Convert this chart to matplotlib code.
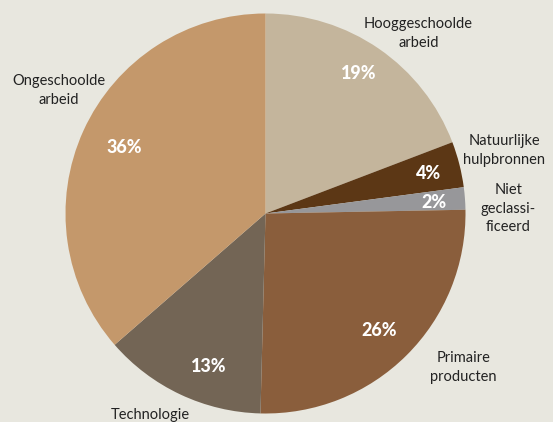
import numpy as np
from matplotlib import pyplot as plt

# sectors, clockwise from the top
labels = ['Hooggeschoolde\narbeid', 'Natuurlijke\nhulpbronnen', 'Niet\ngeclassi-\nficeerd',
          'Primaire\nproducten', 'Technologie', 'Ongeschoolde\narbeid']
shares = [19.2, 3.7, 1.8, 25.7, 13.2, 36.4]
pct_text = ['19%', '4%', '2%', '26%', '13%', '36%']
colors = ['#c4b59c', '#5c3715', '#97979a', '#8a5e3c', '#736555', '#c4986b']

# where the texts sit (data units of the pie, radius 1)
label_pos = [(0.765, 0.90), (1.195, 0.315), (1.215, 0.025),
             (0.99, -0.77), (-0.575, -1.005), (-1.035, 0.615)]
pct_pos = [(0.465, 0.70), (0.815, 0.20), (0.84, 0.055),
           (0.57, -0.585), (-0.285, -0.765), (-0.705, 0.33)]

bg = '#e8e7df'
fig = plt.figure(figsize=(5.53, 4.22), dpi=100, facecolor=bg)
ax = fig.add_axes([65.5/553, 8.5/422, 400/553, 400/422])
ax.set_facecolor(bg)

ax.pie(shares, colors=colors, startangle=90, counterclock=False, radius=1,
       wedgeprops={'linewidth': 0})

for lab, (x, y) in zip(labels, label_pos):
    ax.text(x, y, lab, ha='center', va='center', fontsize=10.5, color='#222222',
            family='Lato', linespacing=1.4)

for s, (x, y) in zip(pct_text, pct_pos):
    ax.text(x, y, s, ha='center', va='center', fontsize=13, color='white',
            family='Lato', fontweight='black')

ax.set_xlim(-1, 1)
ax.set_ylim(-1, 1)
ax.set_aspect('equal')
ax.axis('off')

fig.savefig('out.png', dpi=100, facecolor=bg)
